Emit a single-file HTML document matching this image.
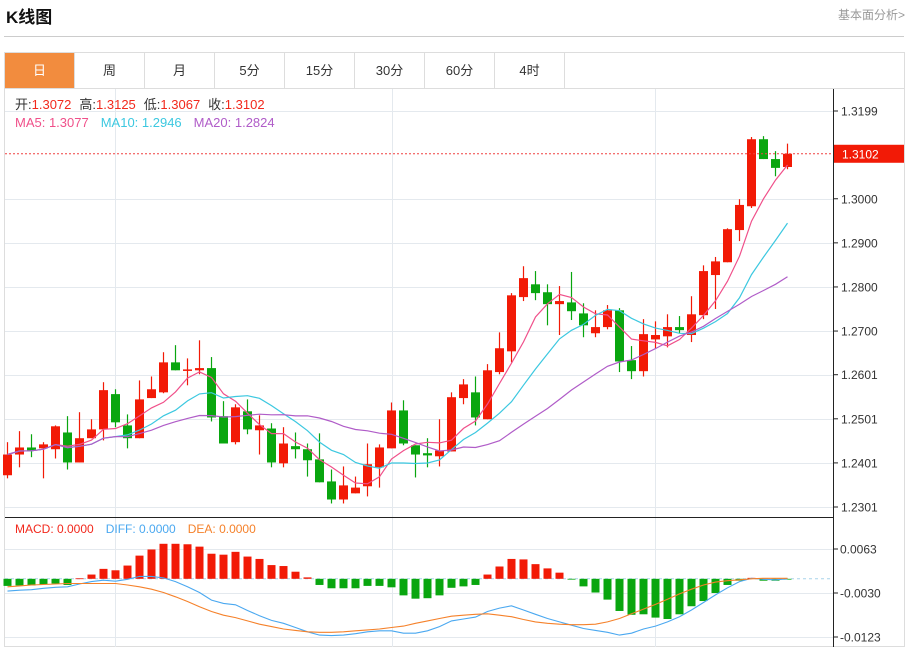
<!DOCTYPE html>
<html><head><meta charset="utf-8">
<style>
body{margin:0;background:#fff;font-family:"Liberation Sans","Noto Sans CJK SC",sans-serif;}
svg{display:block}
text{font-family:"Liberation Sans","Noto Sans CJK SC",sans-serif}
</style></head>
<body>
<svg id="c" width="911" height="647" viewBox="0 0 911 647" xmlns="http://www.w3.org/2000/svg">
<text x="6" y="23" font-size="17" font-weight="bold" fill="#111">K线图</text>
<text x="905" y="19" font-size="12" fill="#999" text-anchor="end">基本面分析&gt;</text>
<line x1="4" y1="36.5" x2="904" y2="36.5" stroke="#ccc"/>
<rect x="4.5" y="52.5" width="900" height="594" fill="none" stroke="#ddd"/>
<line x1="4" y1="88.5" x2="904" y2="88.5" stroke="#ddd"/>
<g id="tabs"></g>
<g id="grid"></g>
<g id="plot"></g>
<g id="axis"></g>
<g id="legend">
<text y="109" font-size="13"><tspan x="15" fill="#333">开:</tspan><tspan fill="#f2281c">1.3072</tspan><tspan dx="8" fill="#333">高:</tspan><tspan fill="#f2281c">1.3125</tspan><tspan dx="8" fill="#333">低:</tspan><tspan fill="#f2281c">1.3067</tspan><tspan dx="8" fill="#333">收:</tspan><tspan fill="#f2281c">1.3102</tspan></text>
<text y="127" font-size="13"><tspan x="15" fill="#f0508a">MA5: 1.3077</tspan><tspan dx="12" fill="#3cc8e0">MA10: 1.2946</tspan><tspan dx="12" fill="#b05cc8">MA20: 1.2824</tspan></text>
<text y="533" font-size="12"><tspan x="15" fill="#f2281c">MACD: 0.0000</tspan><tspan dx="12" fill="#4aa8f0">DIFF: 0.0000</tspan><tspan dx="12" fill="#f5812a">DEA: 0.0000</tspan></text>
</g>
</svg>
<script>
const tabLabels=["日","周","月","5分","15分","30分","60分","4时"];
const opens=[1.2373,1.2420,1.2436,1.2434,1.2432,1.2470,1.2402,1.2457,1.2477,1.2557,1.2486,1.2457,1.2548,1.2561,1.2629,1.2611,1.2611,1.2616,1.2507,1.2448,1.2518,1.2475,1.2479,1.2400,1.2439,1.2432,1.2409,1.2359,1.2318,1.2332,1.2348,1.2391,1.2434,1.2520,1.2441,1.2423,1.2416,1.2427,1.2548,1.2561,1.2500,1.2607,1.2654,1.2777,1.2806,1.2788,1.2761,1.2765,1.2740,1.2695,1.2709,1.2747,1.2634,1.2609,1.2681,1.2688,1.2709,1.2691,1.2736,1.2827,1.2856,1.2929,1.2983,1.3135,1.3090,1.3072];
const highs=[1.2448,1.2473,1.2466,1.2448,1.2486,1.2507,1.2516,1.2500,1.2584,1.2568,1.2511,1.2588,1.2597,1.2652,1.2668,1.2638,1.2679,1.2641,1.2541,1.2534,1.2545,1.2509,1.2491,1.2482,1.2470,1.2445,1.2468,1.2386,1.2393,1.2370,1.2445,1.2443,1.2538,1.2543,1.2441,1.2457,1.2500,1.2561,1.2591,1.2597,1.2625,1.2697,1.2786,1.2847,1.2836,1.2806,1.2802,1.2834,1.2763,1.2747,1.2759,1.2752,1.2666,1.2727,1.2722,1.2738,1.2734,1.2779,1.2849,1.2868,1.2933,1.2999,1.3140,1.3142,1.3108,1.3125];
const lows=[1.2366,1.2391,1.2414,1.2366,1.2411,1.2386,1.2402,1.2457,1.2452,1.2482,1.2434,1.2457,1.2548,1.2559,1.2611,1.2577,1.2602,1.2495,1.2445,1.2443,1.2466,1.2420,1.2391,1.2391,1.2411,1.2370,1.2357,1.2309,1.2309,1.2332,1.2325,1.2345,1.2434,1.2441,1.2368,1.2391,1.2393,1.2427,1.2534,1.2486,1.2500,1.2602,1.2629,1.2768,1.2770,1.2713,1.2691,1.2725,1.2686,1.2686,1.2704,1.2607,1.2591,1.2597,1.2661,1.2663,1.2695,1.2675,1.2727,1.2750,1.2856,1.2904,1.2979,1.3090,1.3051,1.3067];
const closes=[1.2420,1.2436,1.2429,1.2443,1.2484,1.2402,1.2457,1.2477,1.2566,1.2493,1.2457,1.2545,1.2568,1.2629,1.2611,1.2613,1.2616,1.2504,1.2445,1.2527,1.2477,1.2486,1.2402,1.2445,1.2432,1.2407,1.2357,1.2318,1.2350,1.2345,1.2398,1.2436,1.2520,1.2445,1.2420,1.2418,1.2429,1.2550,1.2579,1.2504,1.2611,1.2661,1.2781,1.2820,1.2786,1.2761,1.2768,1.2745,1.2713,1.2709,1.2747,1.2631,1.2609,1.2693,1.2691,1.2709,1.2702,1.2738,1.2836,1.2858,1.2931,1.2986,1.3135,1.3090,1.3070,1.3102];
const macdHist=[-0.0015,-0.0014,-0.0014,-0.0012,-0.0010,-0.0013,0.0001,0.0009,0.0021,0.0018,0.0028,0.0049,0.0062,0.0074,0.0074,0.0073,0.0068,0.0053,0.0051,0.0057,0.0047,0.0042,0.0029,0.0027,0.0015,0.0003,-0.0013,-0.0020,-0.0020,-0.0020,-0.0015,-0.0015,-0.0018,-0.0035,-0.0042,-0.0041,-0.0035,-0.0019,-0.0016,-0.0013,0.0009,0.0026,0.0042,0.0041,0.0031,0.0022,0.0013,-0.0001,-0.0016,-0.0029,-0.0044,-0.0068,-0.0076,-0.0075,-0.0082,-0.0085,-0.0075,-0.0058,-0.0047,-0.0030,-0.0013,-0.0004,0.0002,-0.0004,-0.0004,-0.0001];
const diffLine=[-0.0026,-0.0024,-0.0023,-0.0020,-0.0018,-0.0017,-0.0011,-0.0006,-0.0003,-0.0005,-0.0001,0.0005,0.0005,0.0002,-0.0006,-0.0017,-0.0029,-0.0045,-0.0052,-0.0055,-0.0067,-0.0078,-0.0088,-0.0094,-0.0103,-0.0112,-0.0119,-0.0120,-0.0119,-0.0116,-0.0112,-0.0110,-0.0110,-0.0115,-0.0115,-0.0110,-0.0101,-0.0089,-0.0085,-0.0081,-0.0069,-0.0062,-0.0057,-0.0066,-0.0075,-0.0084,-0.0091,-0.0098,-0.0105,-0.0109,-0.0113,-0.0119,-0.0115,-0.0106,-0.0100,-0.0091,-0.0080,-0.0066,-0.0050,-0.0034,-0.0019,-0.0006,0.0001,-0.0001,-0.0002,0.0000];
const deaLine=[-0.0017,-0.0015,-0.0013,-0.0012,-0.0011,-0.0010,-0.0010,-0.0010,-0.0010,-0.0010,-0.0013,-0.0017,-0.0022,-0.0029,-0.0038,-0.0048,-0.0059,-0.0069,-0.0077,-0.0082,-0.0089,-0.0096,-0.0101,-0.0106,-0.0109,-0.0112,-0.0113,-0.0113,-0.0112,-0.0110,-0.0108,-0.0106,-0.0103,-0.0100,-0.0094,-0.0089,-0.0084,-0.0079,-0.0077,-0.0075,-0.0074,-0.0077,-0.0080,-0.0086,-0.0091,-0.0094,-0.0096,-0.0097,-0.0097,-0.0096,-0.0091,-0.0084,-0.0074,-0.0064,-0.0054,-0.0043,-0.0032,-0.0022,-0.0013,-0.0007,-0.0004,-0.0002,0.0000,0.0001,0.0001,0.0001];
const priceTicks=[1.3199,1.3000,1.2900,1.2800,1.2700,1.2601,1.2501,1.2401,1.2301];
const macdTicks=[0.0063,-0.0030,-0.0123];
const lastPrice=1.3102;

const NS="http://www.w3.org/2000/svg";
function el(tag,attrs,parent,txt){const e=document.createElementNS(NS,tag);for(const k in attrs)e.setAttribute(k,attrs[k]);if(txt!==undefined)e.textContent=txt;parent.appendChild(e);return e;}
const yP=p=>111+(1.3199-p)*(396/0.0898);
const yM=v=>549+(0.0063-v)*(88/0.0186);
const xI=i=>7.5+12*i;
const RED="#f21a06",GREEN="#09a60f";

const tabs=document.getElementById('tabs');
tabLabels.forEach((t,i)=>{
  const x=5+i*70;
  const r=el('rect',{x:x,y:53,width:69,height:35,fill:i===0?"#f28c3e":"#fff"},tabs);
  
  
  el('line',{x1:x+69.5,y1:53,x2:x+69.5,y2:88,stroke:"#ddd"},tabs);
  const tx=el('text',{x:x+34.5,y:75,'font-size':13,'text-anchor':'middle',fill:i===0?"#fff":"#333"},tabs,t);
  
  
});

const grid=document.getElementById('grid');
priceTicks.forEach(p=>{el('line',{x1:5,x2:833,y1:Math.round(yP(p))+0.5,y2:Math.round(yP(p))+0.5,stroke:"#e4e9ee"},grid);});
macdTicks.forEach(v=>{el('line',{x1:5,x2:833,y1:Math.round(yM(v))+0.5,y2:Math.round(yM(v))+0.5,stroke:"#e4e9ee"},grid);});
[115.5,392.5,655.5].forEach(x=>{el('line',{x1:x,x2:x,y1:89,y2:647,stroke:"#e4e9ee"},grid);});
el('line',{x1:5,x2:833,y1:yM(0),y2:yM(0),stroke:"#a8d4ea","stroke-dasharray":"3,3"},grid);

const plot=document.getElementById('plot');
// candles
closes.forEach((c,i)=>{
  const o=opens[i],up=c>=o,col=up?RED:GREEN,x=xI(i);
  const g=el('g',{},plot);
  
  
  el('line',{x1:x,x2:x,y1:yP(highs[i]),y2:yP(lows[i]),stroke:col,'stroke-width':1.2},g);
  const top=yP(Math.max(o,c)),bot=yP(Math.min(o,c));
  el('rect',{x:x-4.5,y:top,width:9,height:Math.max(1.5,bot-top),fill:col},g);
});
// MAs
function ma(n){return closes.map((_,i)=>{const s=closes.slice(Math.max(0,i-n+1),i+1);return s.reduce((a,b)=>a+b,0)/s.length;});}
[[5,"#f0508a"],[10,"#3cc8e0"],[20,"#b05cc8"]].forEach(([n,col])=>{
  const pts=ma(n).map((v,i)=>xI(i).toFixed(1)+','+yP(v).toFixed(1)).join(' ');
  const pl=el('polyline',{points:pts,fill:'none',stroke:col,'stroke-width':1.2},plot);
  
  
});
// last price line
el('line',{x1:5,x2:833,y1:yP(lastPrice),y2:yP(lastPrice),stroke:"#f04040","stroke-dasharray":"2,2"},plot);
// MACD hist
macdHist.forEach((v,i)=>{
  const y0=yM(0),y1=yM(v);
  const r=el('rect',{x:xI(i)-4,y:Math.min(y0,y1),width:8,height:Math.max(0.8,Math.abs(y1-y0)),fill:v>=0?RED:GREEN},plot);
  
  
});
[[diffLine,"#4aa8f0",'diff-line'],[deaLine,"#f5812a",'dea-line']].forEach(([arr,col,nm])=>{
  const pts=arr.map((v,i)=>xI(i).toFixed(1)+','+yM(v).toFixed(1)).join(' ');
  const pl=el('polyline',{points:pts,fill:'none',stroke:col,'stroke-width':1.1},plot);
  
  
});

// axes
const ax=document.getElementById('axis');
el('line',{x1:833.5,x2:833.5,y1:89,y2:647,stroke:"#222"},ax);
el('line',{x1:5,x2:833,y1:517.5,y2:517.5,stroke:"#222"},ax);
priceTicks.forEach(p=>{
  const y=yP(p);
  el('line',{x1:833,x2:838,y1:y,y2:y,stroke:"#222"},ax);
  const t=el('text',{x:841,y:y+4.5,'font-size':12,fill:"#333"},ax,p.toFixed(4));
  
  
});
macdTicks.forEach(v=>{
  const y=yM(v);
  el('line',{x1:833,x2:838,y1:y,y2:y,stroke:"#222"},ax);
  const t=el('text',{x:840,y:y+4.5,'font-size':12,fill:"#333"},ax,(v<0?'-':'')+Math.abs(v).toFixed(4));
  
  
});
const ly=yP(lastPrice);
const lb=el('rect',{x:834,y:ly-9,width:70,height:18,fill:"#f21a06"},ax);


el('text',{x:842,y:ly+4.5,'font-size':12,fill:"#fff"},ax,lastPrice.toFixed(4));
</script>
</body></html>
